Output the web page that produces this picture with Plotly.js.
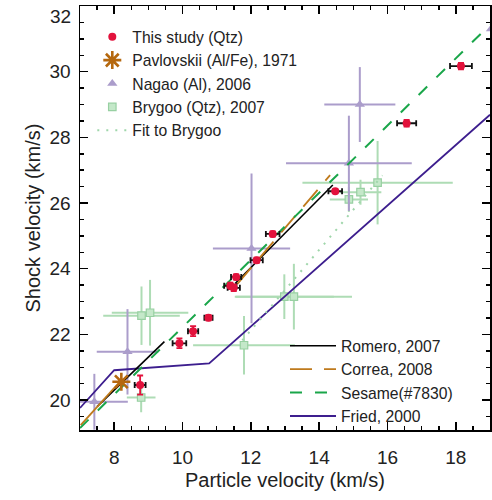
<!DOCTYPE html>
<html>
<head>
<meta charset="utf-8">
<script src="https://cdn.plot.ly/plotly-3.0.1.min.js"></script>
<style>html,body{margin:0;padding:0;background:#fff;}#chart{width:492px;height:500px;}</style>
</head>
<body>
<div id="chart"></div>
<script>
// ---- data ----
var studyX    = [18.15, 16.56, 14.47, 12.64, 12.17, 11.57, 11.40, 11.50, 10.76, 10.31, 9.91, 8.76];
var studyY    = [30.17, 28.43, 26.36, 25.06, 24.26, 23.75, 23.48, 23.42, 22.51, 22.10, 21.73, 20.46];
var studyXErr = [0.32, 0.28, 0.20, 0.20, 0.18, 0.15, 0.18, 0.18, 0.12, 0.15, 0.20, 0.16];
var studyYErr = [0.10, 0.10, 0.06, 0.08, 0.08, 0.08, 0.10, 0.10, 0.08, 0.15, 0.15, 0.29];

var pavX = [8.21];
var pavY = [20.56];

var nagaoX    = [7.42, 8.39, 12.02, 14.87, 15.19, 19.03];
var nagaoY    = [19.95, 21.47, 24.62, 27.21, 29.00, 31.30];
var nagaoXErr = [0.98, 0.90, 1.13, 1.84, 1.04, 0.05];
var nagaoYErr = [0.85, 1.30, 2.28, 1.45, 1.14, 0.50];

var brygooX    = [8.79, 8.80, 9.05, 11.80, 12.98, 13.26, 14.87, 15.21, 15.71];
var brygooY    = [20.08, 22.57, 22.66, 21.67, 23.15, 23.15, 26.11, 26.33, 26.62];
var brygooXErr = [0.42, 1.12, 1.12, 1.49, 1.45, 1.70, 0.56, 0.61, 2.20];
var brygooYErr = [0.45, 0.89, 1.00, 0.89, 0.68, 1.00, 0.38, 0.38, 1.27];

var fitX = [11.75, 15.85];
var fitY = [21.82, 26.84];

var romeroX = [7.50, 9.47, null, 11.54, 14.40];
var romeroY = [19.80, 21.78, null, 23.55, 26.55];

var correaLowX = [7.02, 8.21];
var correaLowY = [19.24, 20.61];
var correaX = [11.60, 14.32];
var correaY = [23.53, 26.85];

var sesameX = [7.0, 19.0];
var sesameY = [19.15, 31.43];

var friedX = [7.0, 8.0, 10.78, 19.0];
var friedY = [19.76, 20.91, 21.12, 28.69];

var xTickVals = [8, 10, 12, 14, 16, 18];
var yTickVals = [20, 22, 24, 26, 28, 30];

// ---- styling ----
var FONT = 'Liberation Sans, Arial, Helvetica, sans-serif';
var TXT = '#222222';
var RED = '#e2123c';
var PURPLE = '#ab9dcb';
var GREEN = '#aedcb5';

var traces = [
  {x: brygooX, y: brygooY, type: 'scatter', mode: 'markers', name: 'Brygoo (Qtz), 2007',
   legend: 'legend', legendrank: 4,
   marker: {symbol: 'square', size: 7.5, color: '#c4e8c9', line: {color: '#98d0a2', width: 1.2}},
   error_x: {type: 'data', array: brygooXErr, color: GREEN, thickness: 2, width: 0},
   error_y: {type: 'data', array: brygooYErr, color: GREEN, thickness: 2, width: 0}},
  {x: nagaoX, y: nagaoY, type: 'scatter', mode: 'markers', name: 'Nagao (Al), 2006',
   legend: 'legend', legendrank: 3,
   marker: {symbol: 'triangle-up', size: 9, color: PURPLE},
   error_x: {type: 'data', array: nagaoXErr, color: PURPLE, thickness: 2, width: 0},
   error_y: {type: 'data', array: nagaoYErr, color: PURPLE, thickness: 2, width: 0}},
  {x: friedX, y: friedY, type: 'scatter', mode: 'lines', name: 'Fried, 2000',
   legend: 'legend2', legendrank: 4,
   line: {color: '#3d1e8e', width: 1.8}},
  {x: fitX, y: fitY, type: 'scatter', mode: 'lines', name: 'Fit to Brygoo',
   legend: 'legend', legendrank: 5,
   line: {color: '#9fd6aa', width: 2, dash: '2px,7px'}},
  {x: romeroX, y: romeroY, type: 'scatter', mode: 'lines', name: 'Romero, 2007',
   legend: 'legend2', legendrank: 1, connectgaps: false,
   line: {color: '#000000', width: 1.6}},
  {x: correaLowX, y: correaLowY, type: 'scatter', mode: 'lines', name: 'Correa, 2008',
   legend: 'legend2', showlegend: false,
   line: {color: '#bf7a1c', width: 1.8}},
  {x: correaX, y: correaY, type: 'scatter', mode: 'lines', name: 'Correa, 2008',
   legend: 'legend2', legendrank: 2,
   line: {color: '#bf7a1c', width: 1.8, dash: '22px,12px'}},
  {x: sesameX, y: sesameY, type: 'scatter', mode: 'lines', name: 'Sesame(#7830)',
   legend: 'legend2', legendrank: 3,
   line: {color: '#1aa64a', width: 2, dash: '12px,13px'}},
  {x: pavX, y: pavY, type: 'scatter', mode: 'markers', name: 'Pavlovskii (Al/Fe), 1971',
   legend: 'legend', legendrank: 2,
   marker: {symbol: 'asterisk-open', size: 15, color: '#b5680f', line: {color: '#b5680f', width: 2.6}}},
  {x: studyX, y: studyY, type: 'scatter', mode: 'markers', name: 'This study (Qtz)',
   legend: 'legend', legendrank: 1,
   marker: {symbol: 'circle', size: 8, color: RED},
   error_x: {type: 'data', array: studyXErr, color: '#111111', thickness: 1.8, width: 3},
   error_y: {type: 'data', array: studyYErr, color: RED, thickness: 1.8, width: 3}}
];

var axisCommon = {
  showgrid: false, zeroline: false,
  showline: true, linecolor: '#000', linewidth: 1.5, mirror: 'ticks',
  ticks: 'inside', ticklen: 8, tickwidth: 1.5, tickcolor: '#000',
  tickfont: {family: FONT, size: 19, color: TXT},
  minor: {dtick: 0.5, ticks: 'inside', ticklen: 4, tickwidth: 1.5, tickcolor: '#000', showgrid: false}
};

var layout = {
  width: 492, height: 500,
  margin: {l: 80, r: 2, t: 6, b: 70},
  paper_bgcolor: '#ffffff', plot_bgcolor: '#ffffff',
  font: {family: FONT, color: TXT},
  xaxis: Object.assign({}, axisCommon, {
    range: [7, 19], tickmode: 'array', tickvals: xTickVals,
    minor: Object.assign({}, axisCommon.minor, {tick0: 7}),
    ticklabelstandoff: 10,
    title: {text: 'Particle velocity (km/s)', font: {family: FONT, size: 20, color: TXT}, standoff: 5}
  }),
  yaxis: Object.assign({}, axisCommon, {
    range: [19.09, 32], tickmode: 'array', tickvals: yTickVals,
    minor: Object.assign({}, axisCommon.minor, {tick0: 19}),
    ticklabelstandoff: 4,
    title: {text: 'Shock velocity (km/s)', font: {family: FONT, size: 20, color: TXT}, standoff: 3}
  }),
  legend: {
    x: 0.03, y: 0.967, xanchor: 'left', yanchor: 'top',
    bgcolor: 'rgba(0,0,0,0)', borderwidth: 0,
    font: {family: FONT, size: 15.7, color: TXT},
    itemwidth: 30, traceorder: 'normal'
  },
  legend2: {
    x: 0.5, y: 0.238, xanchor: 'left', yanchor: 'top',
    bgcolor: 'rgba(0,0,0,0)', borderwidth: 0,
    font: {family: FONT, size: 15.7, color: TXT},
    itemwidth: 46, traceorder: 'normal'
  },
  annotations: [
    {text: '32', xref: 'paper', yref: 'paper', x: -0.017, y: 0.9764, xanchor: 'right', yanchor: 'middle',
     showarrow: false, font: {family: FONT, size: 19, color: TXT}}
  ]
};

Plotly.newPlot('chart', traces, layout, {displayModeBar: false, staticPlot: true});
</script>
</body>
</html>
